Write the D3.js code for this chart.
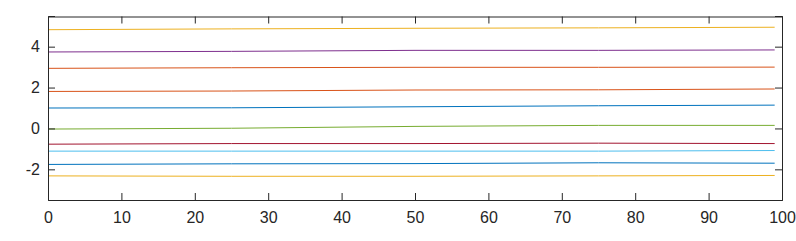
<!DOCTYPE html>
<html><head><meta charset="utf-8">
<script src="https://cdn.jsdelivr.net/npm/d3@7"></script>
<style>body{margin:0;background:#fff}svg{display:block}</style>
</head><body><svg id="c" width="796" height="241"></svg>
<script>
const xs = [0, 25, 50, 75, 99];
const s1 = [1.00, 1.01, 1.06, 1.11, 1.14];      // blue
const s2 = [2.94, 2.97, 2.99, 2.99, 3.00];      // orange
const s3 = [4.83, 4.87, 4.90, 4.92, 4.95];      // yellow
const s4 = [3.74, 3.77, 3.82, 3.82, 3.84];      // purple
const s5 = [-0.03, 0.01, 0.10, 0.15, 0.15];     // green
const s6 = [-1.11, -1.11, -1.11, -1.11, -1.08]; // light blue
const s7 = [-0.77, -0.74, -0.74, -0.72, -0.74]; // dark red
const s8 = [-1.76, -1.73, -1.72, -1.68, -1.70]; // blue
const s9 = [1.81, 1.83, 1.88, 1.89, 1.93];      // orange
const s10 = [-2.32, -2.34, -2.34, -2.32, -2.30];// yellow
const series = [s1, s2, s3, s4, s5, s6, s7, s8, s9, s10];
const colors = ["#0072BD","#D95319","#EDB120","#7E2F8E","#77AC30","#4DBEEE","#A2142F"];
const xTicks = [0,10,20,30,40,50,60,70,80,90,100];
const yTicks = [-2,0,2,4];

const svg = d3.select("#c");
const L = 48, R = 782, T = 16, B = 200;
const x = d3.scaleLinear().domain([0,100]).range([L,R]);
const y = d3.scaleLinear().domain([-3.5,5.5]).range([B,T]);
const axCol = "#262626";

const line = d3.line().x((d,i)=>x(xs[i])).y(d=>y(d));
series.forEach((s,i)=>{
  svg.append("path").attr("d", line(s)).attr("fill","none")
    .attr("stroke", colors[i % colors.length]).attr("stroke-width",1);
});

// axes
const tl = 7;
const gx = svg.append("g").attr("transform",`translate(0,${B})`)
  .call(d3.axisBottom(x).tickValues(xTicks).tickSize(-tl).tickPadding(12).tickFormat(d3.format("d")));
const gxt = svg.append("g").attr("transform",`translate(0,${T+0.5})`)
  .call(d3.axisTop(x).tickValues(xTicks).tickSize(-tl).tickFormat(""));
const gy = svg.append("g").attr("transform",`translate(${L},0)`)
  .call(d3.axisLeft(y).tickValues(yTicks).tickSize(-tl).tickPadding(8).tickFormat(d3.format("d")));
const gyr = svg.append("g").attr("transform",`translate(${R},0)`)
  .call(d3.axisRight(y).tickValues(yTicks).tickSize(-tl).tickFormat(""));
[gx,gxt,gy,gyr].forEach(g=>{
  g.select(".domain").attr("stroke",axCol).attr("stroke-width",1);
  g.selectAll(".tick line").attr("stroke",axCol);
  g.selectAll("text").attr("fill",axCol).attr("font-family","'Liberation Sans', Arial, sans-serif").attr("font-size",16);
});
gy.selectAll(".tick text").text(d=>String(d).replace("\u2212","-"));
</script></body></html>
